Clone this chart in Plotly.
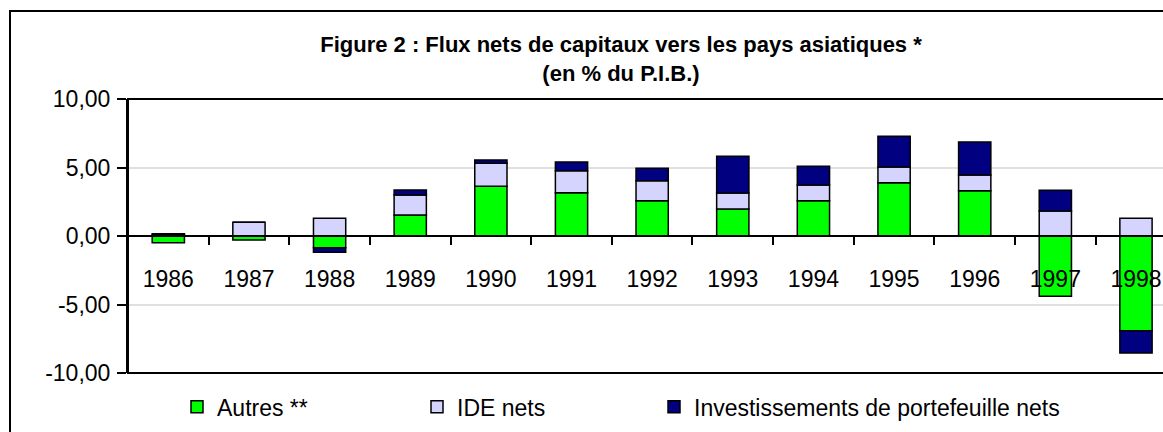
import plotly.graph_objects as go

years = ["1986", "1987", "1988", "1989", "1990", "1991", "1992",
         "1993", "1994", "1995", "1996", "1997", "1998"]
autres = [-0.49, -0.30, -0.85, 1.53, 3.63, 3.16, 2.58, 1.97, 2.58, 3.89, 3.31, -4.40, -6.91]
ide = [0.08, 1.00, 1.29, 1.47, 1.68, 1.61, 1.46, 1.17, 1.14, 1.15, 1.14, 1.82, 1.29]
portefeuille = [0.08, 0.00, -0.33, 0.36, 0.24, 0.63, 0.90, 2.68, 1.37, 2.24, 2.41, 1.52, -1.63]

y_tickvals = [10, 5, 0, -5, -10]
y_ticktext = ["10,00", "5,00", "0,00", "-5,00", "-10,00"]

names = ["Autres **", "IDE nets", "Investissements de portefeuille nets"]
colors = ["#00FF00", "#D4D4FF", "#000080"]
legend_ids = ["legend", "legend2", "legend3"]

FONT = "Arial, Liberation Sans, sans-serif"
FS = 23

fig = go.Figure()
for name, vals, col, lg in zip(names, [autres, ide, portefeuille], colors, legend_ids):
    fig.add_trace(go.Bar(
        x=years, y=vals, name=name, legend=lg,
        marker=dict(color=col, line=dict(color="black", width=1.5)),
    ))

PW = 1035.0  # plot width in px
legend_common = dict(
    orientation="h", xanchor="left", yanchor="top",
    y=-0.045, font=dict(family=FONT, size=FS, color="black"),
    bgcolor="rgba(0,0,0,0)", borderwidth=0,
)

fig.update_layout(
    width=1163, height=432,
    barmode="relative", bargap=0.6,
    paper_bgcolor="white", plot_bgcolor="white",
    font=dict(family=FONT, size=FS, color="black"),
    margin=dict(l=128, r=0, t=99, b=59, autoexpand=False),
    title=dict(
        text="<b>Figure 2 : Flux nets de capitaux vers les pays asiatiques *</b><br><b>(en % du P.I.B.)</b>",
        x=621 / 1163, xanchor="center", xref="container",
        y=1 - 52 / 432, yanchor="top", yref="container",
        font=dict(family=FONT, size=22, color="black"),
    ),
    xaxis=dict(
        type="category", range=[-0.5, 12.335],
        anchor="free", position=0.5,
        showline=True, linecolor="black", linewidth=2,
        ticks="outside", ticklen=8, tickwidth=1.5, tickcolor="black",
        tickson="boundaries", ticklabelstandoff=22,
        showgrid=False, zeroline=False,
        tickfont=dict(family=FONT, size=FS, color="black"),
    ),
    yaxis=dict(
        range=[-10, 10], tickvals=y_tickvals, ticktext=y_ticktext,
        showline=True, linecolor="black", linewidth=2,
        ticks="outside", ticklen=9, tickwidth=1.5, tickcolor="black",
        ticklabelstandoff=2,
        showgrid=True, gridcolor="#E0E0E0", gridwidth=1.5,
        zeroline=False,
        tickfont=dict(family=FONT, size=FS, color="black"),
    ),
    legend=dict(x=(177 - 128) / PW, **legend_common),
    legend2=dict(x=(417 - 128) / PW, **legend_common),
    legend3=dict(x=(654 - 128) / PW, **legend_common),
    showlegend=True,
    shapes=[
        dict(type="rect", xref="paper", yref="paper", x0=0, x1=1.05, y0=0, y1=1,
             line=dict(color="black", width=2), layer="above"),
        dict(type="rect", xref="paper", yref="paper",
             x0=(10 - 128) / PW, x1=1.1, y0=-0.5, y1=(373 - 11) / 274,
             line=dict(color="black", width=2), layer="above"),
    ],
)

fig.write_html("out.html", config={"displayModeBar": False},
               post_script="document.body.style.margin='0';")
